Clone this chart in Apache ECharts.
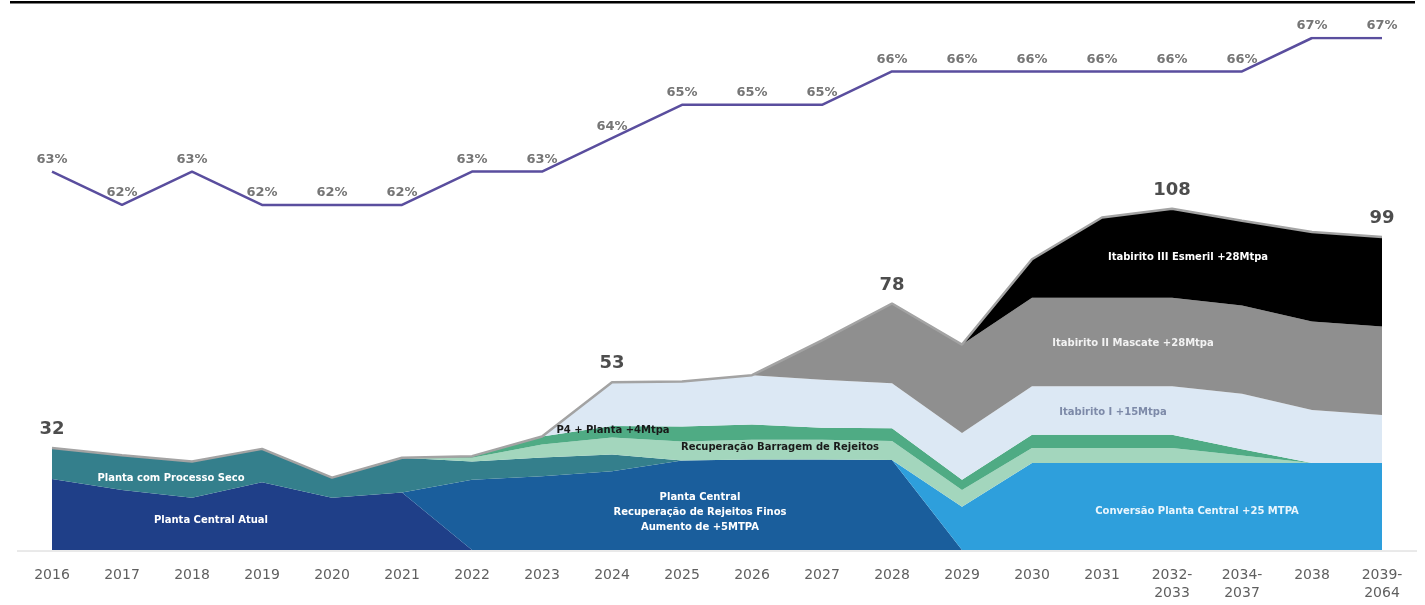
<!DOCTYPE html>
<html>
<head>
<meta charset="utf-8">
<script src="https://cdn.jsdelivr.net/npm/echarts@6/dist/echarts.min.js"></script>
<style>
html,body{margin:0;padding:0;background:#fff;}
#c{width:1425px;height:605px;}
</style>
</head>
<body>
<div id="c"></div>
<script>
// ---------- data ----------
const categories = ['2016','2017','2018','2019','2020','2021','2022','2023','2024','2025','2026','2027','2028','2029','2030','2031','2032-\n2033','2034-\n2037','2038','2039-\n2064'];

// stacked production layers (Mtpa), bottom to top
const plantaCentralAtual   = [22.5, 19, 16.5, 21.4, 16.5, 18.2, 0, 0, 0, 0, 0, 0, 0, 0, 0, 0, 0, 0, 0, 0];
const plantaCentralRecup   = [0, 0, 0, 0, 0, 0, 22.2, 23.3, 24.9, 28.3, 28.6, 28.6, 28.5, 0, 0, 0, 0, 0, 0, 0];
const conversaoPlanta      = [0, 0, 0, 0, 0, 0, 0, 0, 0, 0, 0, 0, 0, 13.7, 27.5, 27.5, 27.5, 27.5, 27.5, 27.5];
const processoSeco         = [9.8, 11, 11.5, 10.6, 6.4, 11, 5.8, 6, 5.3, 0, 0, 0, 0, 0, 0, 0, 0, 0, 0, 0];
const recupBarragem        = [0, 0, 0, 0, 0, 0, 1.2, 4.1, 5.4, 6, 6.3, 6.3, 6, 5.3, 4.8, 4.8, 4.8, 2.4, 0, 0];
const p4Planta             = [0, 0, 0, 0, 0, 0, 0.5, 2.5, 3.6, 4.8, 4.8, 3.8, 4, 3.2, 4.2, 4.2, 4.2, 2, 0, 0];
const itabiritoI           = [0, 0, 0, 0, 0, 0, 0, 0, 13.9, 14.2, 15.6, 15.2, 14.3, 14.8, 15.3, 15.3, 15.3, 17.5, 16.8, 15.2];
const itabiritoII          = [0, 0, 0, 0, 0, 0, 0, 0, 0, 0, 0, 12.4, 25.2, 28, 28, 28, 28, 28, 28, 28];
const itabiritoIII         = [0, 0, 0, 0, 0, 0, 0, 0, 0, 0, 0, 0, 0, 0, 12.2, 25.4, 28.2, 26.8, 28.3, 28.3];

// labelled totals (index -> text)
const totalLabelIdx = [0, 8, 12, 16, 19];
const totalLabelTxt = ['32', '53', '78', '108', '99'];

// recovery (%)
const recovery = [63, 62, 63, 62, 62, 62, 63, 63, 64, 65, 65, 65, 66, 66, 66, 66, 66, 66, 67, 67];

// ---------- chart ----------
const layers = [
  {name:'Planta Central Atual', data:plantaCentralAtual, color:'#1f3f88'},
  {name:'Planta Central Recuperação de Rejeitos Finos', data:plantaCentralRecup, color:'#1a5e9c'},
  {name:'Conversão Planta Central +25 MTPA', data:conversaoPlanta, color:'#2e9fdc'},
  {name:'Planta com Processo Seco', data:processoSeco, color:'#347f8c'},
  {name:'Recuperação Barragem de Rejeitos', data:recupBarragem, color:'#a3d6bd'},
  {name:'P4 + Planta +4Mtpa', data:p4Planta, color:'#4fab84'},
  {name:'Itabirito I +15Mtpa', data:itabiritoI, color:'#dce8f4'},
  {name:'Itabirito II Mascate +28Mtpa', data:itabiritoII, color:'#8f8f8f'},
  {name:'Itabirito III Esmeril +28Mtpa', data:itabiritoIII, color:'#000000'}
];
const total = categories.map((_, i) => layers.reduce((s, l) => s + l.data[i], 0));

const FONT = 'DejaVu Sans';
const series = layers.map(l => ({
  name: l.name, type: 'line', stack: 'prod', data: l.data,
  symbol: 'none', smooth: false,
  lineStyle: {width: 0, opacity: 0},
  areaStyle: {color: l.color, opacity: 1},
  itemStyle: {color: l.color},
  z: 2
}));
series.push({
  name: 'total', type: 'line', data: total,
  symbol: 'circle', symbolSize: 1, showSymbol: true,
  itemStyle: {color: 'rgba(0,0,0,0)'},
  lineStyle: {color: '#a3a3a3', width: 2.5},
  z: 3,
  label: {
    show: true, position: 'top', distance: 9,
    formatter: p => {
      const k = totalLabelIdx.indexOf(p.dataIndex);
      return k >= 0 ? totalLabelTxt[k] : '';
    },
    fontFamily: FONT, fontWeight: 'bold', fontSize: 18, color: '#4d4d4d'
  }
});
series.push({
  name: 'Recuperação', type: 'line', yAxisIndex: 1, data: recovery,
  symbol: 'circle', symbolSize: 1, showSymbol: true,
  itemStyle: {color: 'rgba(0,0,0,0)'},
  lineStyle: {color: '#5a4e9e', width: 2.5}, z: 5,
  label: {
    show: true, position: 'top', distance: 5, formatter: '{c}%',
    fontFamily: FONT, fontWeight: 'bold', fontSize: 13, color: '#767676'
  }
});

const chart = echarts.init(document.getElementById('c'), null, {renderer: 'canvas'});
const txt = (t, x, y, fill) => ({
  type: 'text', x: x, y: y, z: 10,
  style: {text: t, fill: fill, font: 'bold 10px "DejaVu Sans"', align: 'center', verticalAlign: 'middle', lineHeight: 15}
});

chart.setOption({
  animation: false,
  backgroundColor: '#ffffff',
  grid: {left: 52, right: 43, top: 38, bottom: 55, containLabel: false},
  xAxis: {
    type: 'category', data: categories, boundaryGap: false,
    axisLine: {show: false}, axisTick: {show: false},
    axisLabel: {fontFamily: FONT, fontSize: 14, color: '#5f5f5f', margin: 16, lineHeight: 18, interval: 0}
  },
  yAxis: [
    {type: 'value', min: 0, max: 162, show: false, splitLine: {show: false}},
    {type: 'value', min: 51.67, max: 67, show: false, splitLine: {show: false}}
  ],
  series: series,
  graphic: [
    {type: 'rect', shape: {x: 10, y: 1, width: 1405, height: 2.5}, style: {fill: '#000'}, z: 10},
    {type: 'line', shape: {x1: 17, y1: 551, x2: 1417, y2: 551}, style: {stroke: '#d4d4d4', lineWidth: 1}, z: 1},
    txt('Planta com Processo Seco', 171, 478, '#ffffff'),
    txt('Planta Central Atual', 211, 520, '#ffffff'),
    txt('P4 + Planta +4Mtpa', 613, 430, '#1a1a1a'),
    txt('Recuperação Barragem de Rejeitos', 780, 447, '#1a1a1a'),
    txt('Planta Central\nRecuperação de Rejeitos Finos\nAumento de +5MTPA', 700, 512, '#ffffff'),
    txt('Itabirito III Esmeril +28Mtpa', 1188, 257, '#ffffff'),
    txt('Itabirito II Mascate +28Mtpa', 1133, 343, '#f2f2f2'),
    txt('Itabirito I +15Mtpa', 1113, 412, '#7d8aa8'),
    txt('Conversão Planta Central +25 MTPA', 1197, 511, '#eaf6fd')
  ]
});
</script>
</body>
</html>
